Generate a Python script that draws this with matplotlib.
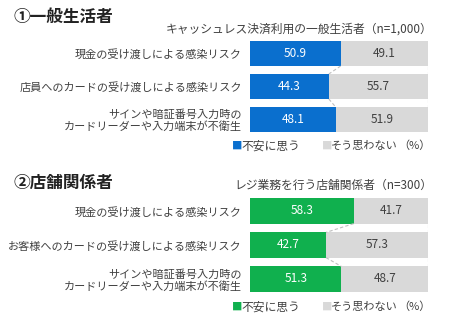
import matplotlib
matplotlib.use("Agg")
import matplotlib.pyplot as plt

plt.rcParams["font.family"] = ["Noto Sans CJK JP", "DejaVu Sans"]

# data
items_top = ["現金の受け渡しによる感染リスク",
             "店員へのカードの受け渡しによる感染リスク",
             "サインや暗証番号入力時の\nカードリーダーや入力端末が不衛生"]
worry_top = [50.9, 44.3, 48.1]
nope_top = [49.1, 55.7, 51.9]

items_bot = ["現金の受け渡しによる感染リスク",
             "お客様へのカードの受け渡しによる感染リスク",
             "サインや暗証番号入力時の\nカードリーダーや入力端末が不衛生"]
worry_bot = [58.3, 42.7, 51.3]
nope_bot = [41.7, 57.3, 48.7]

legend_labels = ["不安に思う", "そう思わない"]

BLUE = "#0a6fce"
GREEN = "#10b04e"
GRAY = "#d9d9d9"
LINE = "#bfbfbf"
TXT = "#404040"

W, H = 450, 322
fig = plt.figure(figsize=(W / 100, H / 100), dpi=100)


def panel(rect, items, worry, nope, color, bar_h):
    ax = fig.add_axes(rect)
    y = list(range(len(items)))
    ax.barh(y, worry, height=bar_h, color=color)
    ax.barh(y, nope, left=worry, height=bar_h, color=GRAY)
    for i in y:
        ax.text(worry[i] / 2, i, f"{worry[i]:.1f}", ha="center", va="center",
                color="white", fontsize=8.5)
        ax.text(worry[i] + nope[i] / 2, i, f"{nope[i]:.1f}", ha="center",
                va="center", color=TXT, fontsize=8.5)
    # series lines between bars
    for i in y[:-1]:
        ax.plot([worry[i], worry[i + 1]], [i + bar_h / 2, i + 1 - bar_h / 2],
                ls=(0, (3, 2)), color=LINE, lw=0.8)
        ax.plot([100, 100], [i + bar_h / 2, i + 1 - bar_h / 2],
                ls=(0, (3, 2)), color=LINE, lw=0.8)
    ax.set_xlim(0, 100)
    ax.set_ylim(len(items) - 0.5, -0.5)
    ax.set_yticks(y)
    ax.set_yticklabels(items, fontsize=8, color=TXT, linespacing=1.1)
    ax.set_xticks([])
    ax.tick_params(axis="y", length=0, pad=6)
    for s in ax.spines.values():
        s.set_visible(False)
    ax.patch.set_alpha(0)
    return ax


panel([250 / W, 1 - 136 / H, 178 / W, 99 / H], items_top, worry_top, nope_top,
      BLUE, 0.76)
panel([250 / W, 1 - 296 / H, 178 / W, 102 / H], items_bot, worry_bot, nope_bot,
      GREEN, 0.74)

# titles
fig.text(13 / W, 1 - 17 / H, "①一般生活者", fontsize=12, fontweight="bold",
         color="#222222", va="center", ha="left")
fig.text(432 / W, 1 - 29 / H, "キャッシュレス決済利用の一般生活者（n=1,000）",
         fontsize=8.5, color=TXT, va="center", ha="right")
fig.text(13 / W, 1 - 183 / H, "②店舗関係者", fontsize=12, fontweight="bold",
         color="#222222", va="center", ha="left")
fig.text(432 / W, 1 - 185 / H, "レジ業務を行う店舗関係者（n=300）",
         fontsize=8.5, color=TXT, va="center", ha="right")


def legend(ypix, color):
    yy = 1 - ypix / H
    fig.text(232 / W, yy, "■", color=color, fontsize=7.5, va="center", ha="left")
    fig.text(241 / W, yy, legend_labels[0], color=TXT, fontsize=8.5,
             va="center", ha="left")
    fig.text(322 / W, yy, "■", color=GRAY, fontsize=7.5, va="center", ha="left")
    fig.text(331 / W, yy, legend_labels[1], color=TXT, fontsize=8,
             va="center", ha="left")
    fig.text(431 / W, yy, "（%）", color=TXT, fontsize=8, va="center",
             ha="right")


legend(146, BLUE)
legend(307, GREEN)

fig.savefig("out.png", dpi=100, facecolor="white")
